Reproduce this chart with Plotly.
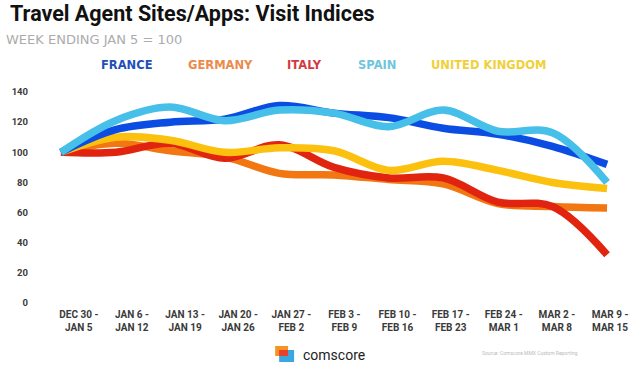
import plotly.graph_objects as go

W, H = 640, 374
ML, MR, MT, MB = 28, 20, 80, 68

weeks = ["DEC 30 -<br>JAN 5", "JAN 6 -<br>JAN 12", "JAN 13 -<br>JAN 19", "JAN 20 -<br>JAN 26",
         "JAN 27 -<br>FEB 2", "FEB 3 -<br>FEB 9", "FEB 10 -<br>FEB 16", "FEB 17 -<br>FEB 23",
         "FEB 24 -<br>MAR 1", "MAR 2 -<br>MAR 8", "MAR 9 -<br>MAR 15"]
france = [100, 115, 120, 122, 131, 126, 123, 116, 112, 104, 92]
germany = [100, 106, 101, 97, 86, 85, 82, 79, 66, 64, 63]
italy = [100, 100, 106, 96, 105, 90, 83, 83, 67, 64, 32]
spain = [100, 121, 130, 121, 128, 126, 117, 128, 114, 113, 80]
uk = [100, 110, 108, 100, 103, 101, 88, 94, 88, 80, 76]
y_ticks = [0, 20, 40, 60, 80, 100, 120, 140]

series = [
    ("GERMANY", germany, "#f27712", "#ec8a4c"),
    ("ITALY", italy, "#e1240f", "#d33a3f"),
    ("UNITED KINGDOM", uk, "#fcc10e", "#f0d03a"),
    ("FRANCE", france, "#0b4de3", "#1f4fb8"),
    ("SPAIN", spain, "#46bfe9", "#6fc6dc"),
]

x = list(range(len(weeks)))
fig = go.Figure()
for name, vals, col, _ in series:
    fig.add_trace(go.Scatter(x=x, y=vals, mode="lines", name=name,
                             line=dict(color=col, width=7.5, shape="spline", smoothing=1.0),
                             showlegend=False, hoverinfo="skip"))

pw = W - ML - MR
ph = H - MT - MB
def px(xp):
    return (xp - ML) / pw
def py(yp):
    return (H - MB - yp) / ph

x0_ref, step = 60, 54.8
y0_ref, unit = 303, 1.507
# in the original the week labels sit on a slightly narrower spacing than the points
label_start_px, label_step_px = 78, 53.3
tick_pos = [i + (label_start_px + label_step_px * i - (x0_ref + step * i)) / step for i in x]

ann = []
ann.append(dict(text="<b>Travel Agent Sites/Apps: Visit Indices</b>", x=px(7), y=py(13),
                xref="paper", yref="paper", xanchor="left", yanchor="middle", showarrow=False,
                font=dict(family="Roboto", size=21.5, color="#111")))
ann.append(dict(text="WEEK ENDING JAN 5 = 100", x=px(3), y=py(40),
                xref="paper", yref="paper", xanchor="left", yanchor="middle", showarrow=False,
                font=dict(family="DejaVu Sans", size=13, color="#ababab")))
legend_pos = {"FRANCE": 98, "GERMANY": 186, "ITALY": 285, "SPAIN": 356, "UNITED KINGDOM": 429}
legend_order = ["FRANCE", "GERMANY", "ITALY", "SPAIN", "UNITED KINGDOM"]
lcol = {s[0]: s[3] for s in series}
for nm in legend_order:
    ann.append(dict(text="<b>" + nm + "</b>", x=px(legend_pos[nm]), y=py(65),
                    xref="paper", yref="paper", xanchor="left", yanchor="middle", showarrow=False,
                    font=dict(family="DejaVu Sans", size=11.5, color=lcol[nm])))
ann.append(dict(text="comscore", x=px(301), y=py(355),
                xref="paper", yref="paper", xanchor="left", yanchor="middle", showarrow=False,
                font=dict(family="Roboto", size=14, color="#222")))
ann.append(dict(text="Source: Comscore MMX Custom Reporting", x=px(481), y=py(353),
                xref="paper", yref="paper", xanchor="left", yanchor="middle", showarrow=False,
                font=dict(family="Roboto", size=5, color="#bbbbbb")))

shapes = [
    dict(type="rect", xref="paper", yref="paper", x0=px(275), x1=px(288), y0=py(356), y1=py(346),
         fillcolor="#f7931e", line_width=0),
    dict(type="rect", xref="paper", yref="paper", x0=px(279), x1=px(294), y0=py(362), y1=py(350),
         fillcolor="#3aa8e0", line_width=0),
    dict(type="rect", xref="paper", yref="paper", x0=px(279), x1=px(288), y0=py(356), y1=py(350),
         fillcolor="#e8402a", line_width=0),
]

fig.update_layout(
    width=W, height=H,
    margin=dict(l=ML, r=MR, t=MT, b=MB),
    paper_bgcolor="white", plot_bgcolor="white",
    annotations=ann, shapes=shapes,
    xaxis=dict(range=[(ML - x0_ref) / step, (W - MR - x0_ref) / step],
               tickmode="array", tickvals=tick_pos, ticktext=["<b>" + w.replace("<br>", "</b><br><b>") + "</b>" for w in weeks],
               showgrid=False, zeroline=False,
               showline=False, tickfont=dict(family="Roboto", size=10, color="#3a3a3a"),
               ticks="", ticklabelstandoff=1),
    yaxis=dict(range=[(y0_ref - (H - MB)) / unit, (y0_ref - MT) / unit],
               tickmode="array", tickvals=y_ticks, ticktext=["<b>%d</b>" % v for v in y_ticks],
               showgrid=False, zeroline=False,
               showline=False, tickfont=dict(family="Roboto", size=9.5, color="#3a3a3a"), ticks=""),
)
fig.write_html("out.html", config={"displayModeBar": False},
               post_script="document.body.style.margin='0';document.body.style.padding='0';")
